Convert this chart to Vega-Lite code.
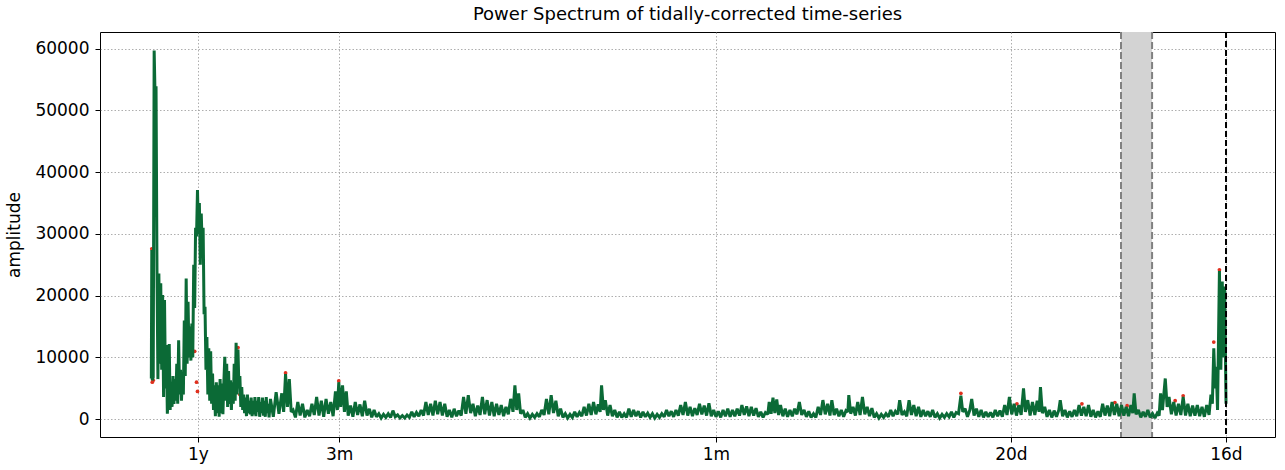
{
  "$schema": "https://vega.github.io/schema/vega-lite/v6.json",
  "autosize": "none",
  "width": 1175,
  "height": 405,
  "padding": {"left": 100, "top": 32, "right": 10, "bottom": 33},
  "background": "white",
  "title": {"text": "Power Spectrum of tidally-corrected time-series", "font": "DejaVu Sans", "fontSize": 18, "fontWeight": "normal", "color": "black", "offset": 7},
  "config": {
    "view": {"stroke": "#000000", "strokeWidth": 1},
    "axis": {"domain": false, "tickColor": "#000000", "tickSize": 5, "tickWidth": 1, "labelFont": "DejaVu Sans", "labelFontSize": 17, "labelColor": "#000000", "titleFont": "DejaVu Sans", "titleFontSize": 17, "titleFontWeight": "normal", "titleColor": "#000000", "grid": true, "gridColor": "#999999", "gridDash": [1.5, 2], "gridWidth": 0.8}
  },
  "datasets": {
    "spec": [
      {"f":0.01,"a":6600},{"f":0.02,"a":27400},{"f":0.03,"a":6300},{"f":0.05,"a":6800},{"f":0.07,"a":59700},{"f":0.09,"a":52000},{"f":0.11,"a":53900},{"f":0.13,"a":24000},{"f":0.15,"a":6500},{"f":0.17,"a":23600},{"f":0.19,"a":9000},{"f":0.21,"a":22000},{"f":0.23,"a":8000},{"f":0.25,"a":20100},{"f":0.27,"a":3600},{"f":0.29,"a":19300},{"f":0.31,"a":5000},{"f":0.33,"a":12000},{"f":0.35,"a":900},{"f":0.37,"a":4000},{"f":0.39,"a":12200},{"f":0.41,"a":1500},{"f":0.43,"a":6000},{"f":0.45,"a":2000},{"f":0.47,"a":7000},{"f":0.49,"a":2500},
      {"f":0.51,"a":6500},{"f":0.53,"a":3000},{"f":0.55,"a":9000},{"f":0.57,"a":2500},{"f":0.59,"a":12800},{"f":0.61,"a":4000},{"f":0.63,"a":8000},{"f":0.65,"a":3000},{"f":0.67,"a":7000},{"f":0.69,"a":4000},{"f":0.71,"a":16000},{"f":0.73,"a":7000},{"f":0.75,"a":22800},{"f":0.77,"a":9000},{"f":0.79,"a":19000},{"f":0.81,"a":10000},{"f":0.83,"a":15000},{"f":0.85,"a":9500},{"f":0.87,"a":15500},{"f":0.89,"a":10000},{"f":0.91,"a":25000},{"f":0.93,"a":18000},{"f":0.95,"a":31000},{"f":0.97,"a":29600},{"f":0.99,"a":37100},
      {"f":1.01,"a":30000},{"f":1.03,"a":35000},{"f":1.05,"a":25000},{"f":1.07,"a":33300},{"f":1.09,"a":28000},{"f":1.11,"a":31000},{"f":1.13,"a":17000},{"f":1.15,"a":18200},{"f":1.17,"a":8000},{"f":1.19,"a":13300},{"f":1.21,"a":4000},{"f":1.23,"a":11500},{"f":1.25,"a":3000},{"f":1.27,"a":11000},{"f":1.29,"a":2500},{"f":1.31,"a":7400},{"f":1.33,"a":1500},{"f":1.35,"a":5500},{"f":1.37,"a":500},{"f":1.39,"a":6000},{"f":1.41,"a":1000},{"f":1.43,"a":5500},{"f":1.45,"a":400},{"f":1.47,"a":6500},{"f":1.49,"a":1000},
      {"f":1.51,"a":5800},{"f":1.53,"a":800},{"f":1.55,"a":6000},{"f":1.57,"a":10100},{"f":1.59,"a":3000},{"f":1.61,"a":9000},{"f":1.63,"a":2000},{"f":1.65,"a":7800},{"f":1.67,"a":2500},{"f":1.69,"a":6300},{"f":1.71,"a":1500},{"f":1.73,"a":6000},{"f":1.75,"a":2500},{"f":1.77,"a":9000},{"f":1.79,"a":3000},{"f":1.81,"a":12400},{"f":1.83,"a":4000},{"f":1.85,"a":11300},{"f":1.87,"a":5000},{"f":1.89,"a":7000},{"f":1.91,"a":2000},{"f":1.93,"a":5200},{"f":1.95,"a":1500},{"f":1.97,"a":4000},{"f":1.99,"a":1000},
      {"f":2.01,"a":3500},{"f":2.03,"a":500},{"f":2.05,"a":4000},{"f":2.07,"a":1000},{"f":2.09,"a":3000},{"f":2.11,"a":800},{"f":2.13,"a":3500},{"f":2.15,"a":500},{"f":2.17,"a":3000},{"f":2.19,"a":800},{"f":2.21,"a":3600},{"f":2.23,"a":500},{"f":2.25,"a":3000},{"f":2.27,"a":1200},{"f":2.29,"a":3600},{"f":2.31,"a":400},{"f":2.33,"a":2800},{"f":2.35,"a":1000},{"f":2.37,"a":3500},{"f":2.39,"a":600},{"f":2.41,"a":3000},{"f":2.43,"a":400},{"f":2.45,"a":3600},{"f":2.47,"a":1000},{"f":2.49,"a":2500},{"f":2.51,"a":300},
      {"f":2.54,"a":3300},{"f":2.6,"a":400},{"f":2.66,"a":4400},{"f":2.72,"a":900},{"f":2.78,"a":4200},{"f":2.82,"a":1200},{"f":2.86,"a":7300},{"f":2.9,"a":2000},{"f":2.94,"a":6500},{"f":2.98,"a":1200},{"f":3.02,"a":1500},{"f":3.07,"a":300},{"f":3.12,"a":2800},{"f":3.17,"a":600},{"f":3.22,"a":2500},{"f":3.27,"a":300},{"f":3.32,"a":1500},{"f":3.37,"a":500},{"f":3.42,"a":2500},{"f":3.47,"a":700},{"f":3.52,"a":3600},{"f":3.57,"a":600},{"f":3.62,"a":3000},{"f":3.67,"a":400},{"f":3.72,"a":3300},{"f":3.77,"a":900},{"f":3.82,"a":2800},{"f":3.87,"a":500},{"f":3.92,"a":4500},{"f":3.96,"a":1500},{"f":3.99,"a":6000},
      {"f":4.03,"a":2000},{"f":4.07,"a":5500},{"f":4.11,"a":1200},{"f":4.15,"a":4500},{"f":4.19,"a":600},{"f":4.24,"a":2200},{"f":4.29,"a":400},{"f":4.34,"a":2800},{"f":4.39,"a":700},{"f":4.44,"a":2400},{"f":4.49,"a":500},{"f":4.54,"a":3000},{"f":4.59,"a":600},{"f":4.64,"a":1700},{"f":4.69,"a":300},{"f":4.74,"a":1500},{"f":4.79,"a":400},{"f":4.84,"a":900},{"f":4.89,"a":200},{"f":4.94,"a":800},{"f":4.99,"a":300},
      {"f":5.04,"a":900},{"f":5.09,"a":300},{"f":5.14,"a":1400},{"f":5.19,"a":400},{"f":5.24,"a":700},{"f":5.29,"a":200},{"f":5.34,"a":600},{"f":5.39,"a":200},{"f":5.44,"a":700},{"f":5.49,"a":300},{"f":5.54,"a":1200},{"f":5.59,"a":400},{"f":5.64,"a":1100},{"f":5.69,"a":500},{"f":5.74,"a":1500},{"f":5.79,"a":600},{"f":5.84,"a":2800},{"f":5.89,"a":700},{"f":5.94,"a":2500},{"f":5.99,"a":600},
      {"f":6.04,"a":3000},{"f":6.09,"a":800},{"f":6.14,"a":2800},{"f":6.19,"a":600},{"f":6.24,"a":2500},{"f":6.29,"a":400},{"f":6.34,"a":1500},{"f":6.39,"a":300},{"f":6.44,"a":1700},{"f":6.49,"a":500},{"f":6.54,"a":1400},{"f":6.59,"a":600},{"f":6.64,"a":3600},{"f":6.69,"a":900},{"f":6.74,"a":3900},{"f":6.79,"a":1000},{"f":6.84,"a":2500},{"f":6.89,"a":500},{"f":6.94,"a":2200},{"f":6.99,"a":700},
      {"f":7.04,"a":3600},{"f":7.09,"a":800},{"f":7.14,"a":3100},{"f":7.19,"a":600},{"f":7.24,"a":2800},{"f":7.29,"a":500},{"f":7.34,"a":2500},{"f":7.39,"a":700},{"f":7.44,"a":2300},{"f":7.49,"a":500},{"f":7.54,"a":2000},{"f":7.59,"a":800},{"f":7.64,"a":3300},{"f":7.69,"a":1200},{"f":7.73,"a":5500},{"f":7.77,"a":1500},{"f":7.81,"a":4200},{"f":7.85,"a":900},{"f":7.9,"a":1500},{"f":7.95,"a":300},
      {"f":8.0,"a":900},{"f":8.05,"a":200},{"f":8.1,"a":800},{"f":8.15,"a":300},{"f":8.2,"a":900},{"f":8.25,"a":400},{"f":8.3,"a":1500},{"f":8.35,"a":700},{"f":8.4,"a":3300},{"f":8.45,"a":800},{"f":8.5,"a":3900},{"f":8.55,"a":1000},{"f":8.6,"a":3000},{"f":8.65,"a":500},{"f":8.7,"a":1700},{"f":8.75,"a":300},{"f":8.8,"a":900},{"f":8.85,"a":200},{"f":8.9,"a":800},{"f":8.95,"a":300},
      {"f":9.0,"a":1200},{"f":9.05,"a":400},{"f":9.1,"a":1100},{"f":9.15,"a":500},{"f":9.2,"a":2000},{"f":9.25,"a":600},{"f":9.3,"a":2500},{"f":9.35,"a":700},{"f":9.4,"a":2800},{"f":9.45,"a":800},{"f":9.5,"a":2400},{"f":9.54,"a":1200},{"f":9.57,"a":5500},{"f":9.61,"a":1500},{"f":9.65,"a":3100},{"f":9.7,"a":600},{"f":9.75,"a":2300},{"f":9.8,"a":500},{"f":9.85,"a":1500},{"f":9.9,"a":300},{"f":9.95,"a":1200},
      {"f":10.0,"a":300},{"f":10.05,"a":900},{"f":10.1,"a":300},{"f":10.15,"a":1700},{"f":10.2,"a":400},{"f":10.25,"a":1500},{"f":10.3,"a":500},{"f":10.35,"a":1300},{"f":10.4,"a":300},{"f":10.45,"a":1200},{"f":10.5,"a":400},{"f":10.55,"a":1000},{"f":10.6,"a":300},{"f":10.65,"a":900},{"f":10.7,"a":200},{"f":10.75,"a":800},{"f":10.8,"a":300},{"f":10.85,"a":900},{"f":10.9,"a":400},{"f":10.95,"a":1500},
      {"f":11.0,"a":500},{"f":11.05,"a":1300},{"f":11.1,"a":400},{"f":11.15,"a":1500},{"f":11.2,"a":600},{"f":11.25,"a":2300},{"f":11.3,"a":700},{"f":11.35,"a":2800},{"f":11.4,"a":600},{"f":11.45,"a":2000},{"f":11.5,"a":500},{"f":11.55,"a":1800},{"f":11.6,"a":700},{"f":11.65,"a":2500},{"f":11.7,"a":800},{"f":11.75,"a":2200},{"f":11.8,"a":600},{"f":11.85,"a":2600},{"f":11.9,"a":500},{"f":11.95,"a":1500},
      {"f":12.0,"a":400},{"f":12.05,"a":1300},{"f":12.1,"a":300},{"f":12.15,"a":1500},{"f":12.2,"a":500},{"f":12.25,"a":1700},{"f":12.3,"a":400},{"f":12.35,"a":1500},{"f":12.4,"a":500},{"f":12.45,"a":1700},{"f":12.5,"a":600},{"f":12.55,"a":2300},{"f":12.6,"a":700},{"f":12.65,"a":2100},{"f":12.7,"a":500},{"f":12.75,"a":2000},{"f":12.8,"a":600},{"f":12.85,"a":1800},{"f":12.9,"a":400},{"f":12.95,"a":1200},
      {"f":13.0,"a":300},{"f":13.05,"a":1100},{"f":13.1,"a":800},{"f":13.13,"a":2800},{"f":13.17,"a":900},{"f":13.21,"a":3500},{"f":13.25,"a":1000},{"f":13.29,"a":3200},{"f":13.33,"a":700},{"f":13.37,"a":2300},{"f":13.42,"a":500},{"f":13.47,"a":1700},{"f":13.52,"a":400},{"f":13.57,"a":1500},{"f":13.62,"a":500},{"f":13.67,"a":1700},{"f":13.72,"a":800},{"f":13.77,"a":2800},{"f":13.82,"a":700},{"f":13.87,"a":1500},{"f":13.92,"a":400},{"f":13.97,"a":1300},
      {"f":14.02,"a":300},{"f":14.07,"a":900},{"f":14.12,"a":300},{"f":14.17,"a":2000},{"f":14.22,"a":700},{"f":14.27,"a":3100},{"f":14.32,"a":800},{"f":14.37,"a":2500},{"f":14.42,"a":600},{"f":14.46,"a":3100},{"f":14.51,"a":700},{"f":14.56,"a":1700},{"f":14.61,"a":500},{"f":14.66,"a":1500},{"f":14.71,"a":400},{"f":14.76,"a":1400},{"f":14.8,"a":1200},{"f":14.82,"a":3900},{"f":14.86,"a":900},{"f":14.91,"a":2000},{"f":14.96,"a":600},
      {"f":15.01,"a":2800},{"f":15.06,"a":700},{"f":15.11,"a":3600},{"f":15.16,"a":800},{"f":15.21,"a":2000},{"f":15.26,"a":500},{"f":15.31,"a":1800},{"f":15.36,"a":300},{"f":15.41,"a":900},{"f":15.46,"a":200},{"f":15.51,"a":800},{"f":15.56,"a":300},{"f":15.61,"a":900},{"f":15.66,"a":400},{"f":15.71,"a":1500},{"f":15.76,"a":500},{"f":15.81,"a":1300},{"f":15.86,"a":800},{"f":15.9,"a":3100},{"f":15.95,"a":700},
      {"f":16.0,"a":1200},{"f":16.05,"a":500},{"f":16.1,"a":3100},{"f":16.15,"a":700},{"f":16.2,"a":2300},{"f":16.25,"a":500},{"f":16.3,"a":2000},{"f":16.35,"a":400},{"f":16.4,"a":1500},{"f":16.45,"a":500},{"f":16.5,"a":1300},{"f":16.55,"a":400},{"f":16.6,"a":1500},{"f":16.65,"a":300},{"f":16.7,"a":900},{"f":16.75,"a":200},{"f":16.8,"a":800},{"f":16.85,"a":300},{"f":16.9,"a":900},{"f":16.95,"a":400},
      {"f":17.0,"a":1200},{"f":17.05,"a":300},{"f":17.1,"a":1100},{"f":17.15,"a":900},{"f":17.2,"a":3800},{"f":17.24,"a":1200},{"f":17.29,"a":1700},{"f":17.34,"a":400},{"f":17.39,"a":1500},{"f":17.43,"a":3300},{"f":17.48,"a":600},{"f":17.53,"a":1700},{"f":17.58,"a":400},{"f":17.63,"a":1500},{"f":17.68,"a":300},{"f":17.73,"a":1200},{"f":17.78,"a":400},{"f":17.83,"a":1100},{"f":17.88,"a":300},{"f":17.93,"a":1500},{"f":17.98,"a":500},
      {"f":18.03,"a":1400},{"f":18.08,"a":400},{"f":18.13,"a":2300},{"f":18.18,"a":700},{"f":18.23,"a":3600},{"f":18.28,"a":800},{"f":18.33,"a":2500},{"f":18.38,"a":600},{"f":18.43,"a":2300},{"f":18.48,"a":700},{"f":18.53,"a":5000},{"f":18.57,"a":1200},{"f":18.62,"a":3100},{"f":18.67,"a":600},{"f":18.72,"a":2800},{"f":18.77,"a":700},{"f":18.82,"a":3000},{"f":18.86,"a":1200},{"f":18.89,"a":5200},{"f":18.93,"a":1000},{"f":18.98,"a":2000},
      {"f":19.03,"a":400},{"f":19.08,"a":1500},{"f":19.13,"a":300},{"f":19.18,"a":1400},{"f":19.23,"a":400},{"f":19.28,"a":1500},{"f":19.31,"a":3100},{"f":19.36,"a":500},{"f":19.41,"a":1500},{"f":19.46,"a":300},{"f":19.51,"a":1300},{"f":19.56,"a":400},{"f":19.61,"a":1500},{"f":19.66,"a":500},{"f":19.71,"a":2300},{"f":19.76,"a":600},{"f":19.81,"a":2000},{"f":19.86,"a":500},{"f":19.91,"a":2300},{"f":19.96,"a":400},
      {"f":20.01,"a":1500},{"f":20.06,"a":300},{"f":20.11,"a":1300},{"f":20.16,"a":400},{"f":20.21,"a":2500},{"f":20.26,"a":600},{"f":20.31,"a":2200},{"f":20.36,"a":500},{"f":20.41,"a":2800},{"f":20.46,"a":700},{"f":20.51,"a":2500},{"f":20.56,"a":500},{"f":20.61,"a":2300},{"f":20.66,"a":600},{"f":20.71,"a":2000},{"f":20.76,"a":500},{"f":20.81,"a":2300},{"f":20.85,"a":1000},{"f":20.88,"a":4200},{"f":20.92,"a":800},{"f":20.97,"a":1500},
      {"f":21.02,"a":300},{"f":21.07,"a":1200},{"f":21.12,"a":400},{"f":21.17,"a":1500},{"f":21.22,"a":300},{"f":21.27,"a":900},{"f":21.32,"a":200},{"f":21.37,"a":1000},{"f":21.41,"a":600},{"f":21.44,"a":4200},{"f":21.48,"a":1500},{"f":21.54,"a":6600},{"f":21.58,"a":2000},{"f":21.62,"a":3600},{"f":21.67,"a":800},{"f":21.72,"a":2800},{"f":21.77,"a":600},{"f":21.82,"a":2500},{"f":21.87,"a":700},{"f":21.92,"a":3600},{"f":21.97,"a":600},
      {"f":22.02,"a":2500},{"f":22.07,"a":500},{"f":22.12,"a":2200},{"f":22.17,"a":600},{"f":22.22,"a":2300},{"f":22.27,"a":500},{"f":22.32,"a":2000},{"f":22.37,"a":400},{"f":22.42,"a":2300},{"f":22.47,"a":700},{"f":22.51,"a":4000},{"f":22.54,"a":2500},{"f":22.57,"a":11500},{"f":22.6,"a":5000},{"f":22.62,"a":8500},{"f":22.65,"a":1500},{"f":22.69,"a":24000},{"f":22.72,"a":8000},{"f":22.75,"a":22300},{"f":22.78,"a":10000},{"f":22.8,"a":21500},{"f":22.83,"a":2500}
    ],
    "tips": [
      {"f":0.02,"a":27600},{"f":0.03,"a":6000},{"f":0.05,"a":6300},{"f":0.93,"a":11000},{"f":0.97,"a":6000},{"f":0.99,"a":4500},{"f":1.85,"a":11600},{"f":1.89,"a":4000},{"f":2.86,"a":7500},{"f":3.99,"a":6200},{"f":17.2,"a":4200},{"f":18.39,"a":2500},{"f":19.77,"a":2500},{"f":20.47,"a":2700},{"f":20.73,"a":2200},{"f":21.75,"a":3000},{"f":21.92,"a":3800},{"f":22.57,"a":12500},{"f":22.69,"a":24200}
    ],
    "band": [{"lo": 20.6, "hi": 21.26}],
    "edges": [{"f": 20.6}, {"f": 21.26}],
    "mark16": [{"f": 22.83}]
  },
  "layer": [
    {
      "data": {"name": "band"},
      "mark": {"type": "rect", "color": "#d3d3d3", "opacity": 1},
      "encoding": {
        "x": {"field": "lo", "type": "quantitative", "scale": {"domain": [-1.08, 23.87], "nice": false, "zero": false},
          "axis": {"title": null, "values": [1, 4, 12, 18.2625, 22.828], "labelExpr": "datum.value < 2 ? '1y' : datum.value < 5 ? '3m' : datum.value < 13 ? '1m' : datum.value < 20 ? '20d' : '16d'", "labelPadding": 4}},
        "x2": {"field": "hi"}
      }
    },
    {
      "data": {"name": "edges"},
      "mark": {"type": "rule", "color": "#808080", "strokeWidth": 2, "strokeDash": [7, 3]},
      "encoding": {"x": {"field": "f", "type": "quantitative"}}
    },
    {
      "data": {"name": "tips"},
      "mark": {"type": "point", "filled": true, "color": "#e0301e", "size": 14, "opacity": 1},
      "encoding": {
        "x": {"field": "f", "type": "quantitative"},
        "y": {"field": "a", "type": "quantitative"}
      }
    },
    {
      "data": {"name": "spec"},
      "mark": {"type": "line", "color": "#0b6a36", "strokeWidth": 3, "strokeJoin": "miter", "strokeMiterLimit": 2},
      "encoding": {
        "x": {"field": "f", "type": "quantitative"},
        "y": {"field": "a", "type": "quantitative", "scale": {"domain": [-2870, 62690], "nice": false, "zero": false},
          "axis": {"title": "amplitude", "values": [0, 10000, 20000, 30000, 40000, 50000, 60000], "format": "d", "labelPadding": 6, "titlePadding": 11}}
      }
    },
    {
      "data": {"name": "mark16"},
      "mark": {"type": "rule", "color": "#000000", "strokeWidth": 2, "strokeDash": [6, 3]},
      "encoding": {"x": {"field": "f", "type": "quantitative"}}
    }
  ]
}
